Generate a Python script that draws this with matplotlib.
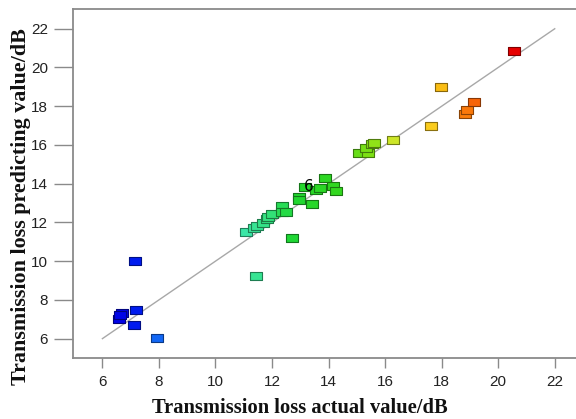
import matplotlib
matplotlib.use("Agg")
import matplotlib.pyplot as plt
import numpy as np
from matplotlib.colors import LinearSegmentedColormap

# Data: actual vs predicted transmission loss (dB)
actual = [7.17, 7.19, 6.69, 6.57, 7.13, 7.93, 6.64,
          11.45, 11.08, 11.38, 11.46, 11.67, 11.81, 11.87, 11.99,
          12.35, 12.35, 12.49, 12.70, 12.97, 12.97, 13.42, 13.15,
          13.54, 13.71, 13.89, 14.17, 14.26,
          15.08, 15.40, 15.33, 15.53, 15.62, 16.27,
          17.64, 17.98, 18.81, 18.89, 19.14, 20.55]
predicted = [10.01, 7.48, 7.31, 7.00, 6.72, 6.04, 7.20,
             9.24, 11.49, 11.73, 11.82, 11.99, 12.16, 12.30, 12.42,
             12.86, 12.52, 12.55, 11.18, 13.33, 13.14, 12.95, 13.81,
             13.67, 13.76, 14.31, 13.88, 13.62,
             15.57, 15.57, 15.86, 16.03, 16.12, 16.27,
             16.98, 19.01, 17.61, 17.79, 18.20, 20.83]
label_text = "6"
label_pos = (13.29, 13.88)
x_ticks = [6, 8, 10, 12, 14, 16, 18, 20, 22]
y_ticks = [6, 8, 10, 12, 14, 16, 18, 20, 22]
x_label = "Transmission loss actual value/dB"
y_label = "Transmission loss predicting value/dB"

# colour ramp keyed to actual value
ramp_vals = [6.5, 7.2, 8.0, 11.0, 12.0, 12.7, 14.3, 15.5, 16.3, 17.6, 18.0, 18.9, 20.55]
ramp_cols = [(0, 0, 230), (0, 30, 240), (20, 110, 245), (60, 230, 170), (50, 225, 120),
             (30, 215, 50), (50, 215, 30), (130, 225, 20), (205, 230, 40), (250, 205, 30),
             (250, 190, 20), (250, 120, 10), (230, 0, 0)]
vmin, vmax = ramp_vals[0], ramp_vals[-1]
cmap = LinearSegmentedColormap.from_list(
    "ramp", [((v - vmin) / (vmax - vmin), tuple(c / 255 for c in col)) for v, col in zip(ramp_vals, ramp_cols)])

fig = plt.figure(figsize=(5.76, 4.19), dpi=100)
W, H = 576, 419
xlim = (4.96, 22.8)
ylim = (5.0, 23.02)
pxu_x = 28.27
left_px, top_px, bottom_px = 73, 9, 358
ax = fig.add_axes([left_px / W, (H - bottom_px) / H,
                   (xlim[1] - xlim[0]) * pxu_x / W, (bottom_px - top_px) / H])
ax.set_xlim(*xlim)
ax.set_ylim(*ylim)

# diagonal reference line
ax.plot([6, 22], [6, 22], color="#a8a8a8", lw=1.0, zorder=1)

rect = [(-1, -0.66), (1, -0.66), (1, 0.66), (-1, 0.66), (-1, -0.66)]
for xa, yp in zip(actual, predicted):
    fc = np.array(cmap((xa - vmin) / (vmax - vmin))[:3])
    ec = fc * 0.55
    ax.plot([xa], [yp], linestyle="none", marker=rect, markersize=8.4,
            markerfacecolor=fc, markeredgecolor=ec, markeredgewidth=0.8, zorder=3)

ax.text(label_pos[0], label_pos[1], label_text, ha="center", va="center",
        fontsize=11, color="black", family="DejaVu Sans", zorder=4)

for s in ax.spines.values():
    s.set_color("#8a8a8a")
    s.set_linewidth(1.3)

ax.set_xticks(x_ticks)
ax.set_yticks(y_ticks)
ax.tick_params(axis="x", direction="out", length=7, width=1.0, color="#8a8a8a",
               pad=5, labelsize=11, labelcolor="#222222")
ax.tick_params(axis="y", direction="out", length=14, width=1.0, color="#8a8a8a",
               pad=4, labelsize=11, labelcolor="#222222")
for lab in ax.get_xticklabels() + ax.get_yticklabels():
    lab.set_family("Liberation Sans")

fig.text(300 / W, 1 - 408 / H, x_label, ha="center", va="center",
         family="Liberation Serif", fontweight="bold", fontsize=14.8, color="#111111")
fig.text(21 / W, 1 - 207 / H, y_label, ha="center", va="center", rotation=90,
         family="Liberation Serif", fontweight="bold", fontsize=15.8, color="#111111")

fig.savefig("out.png", dpi=100)
